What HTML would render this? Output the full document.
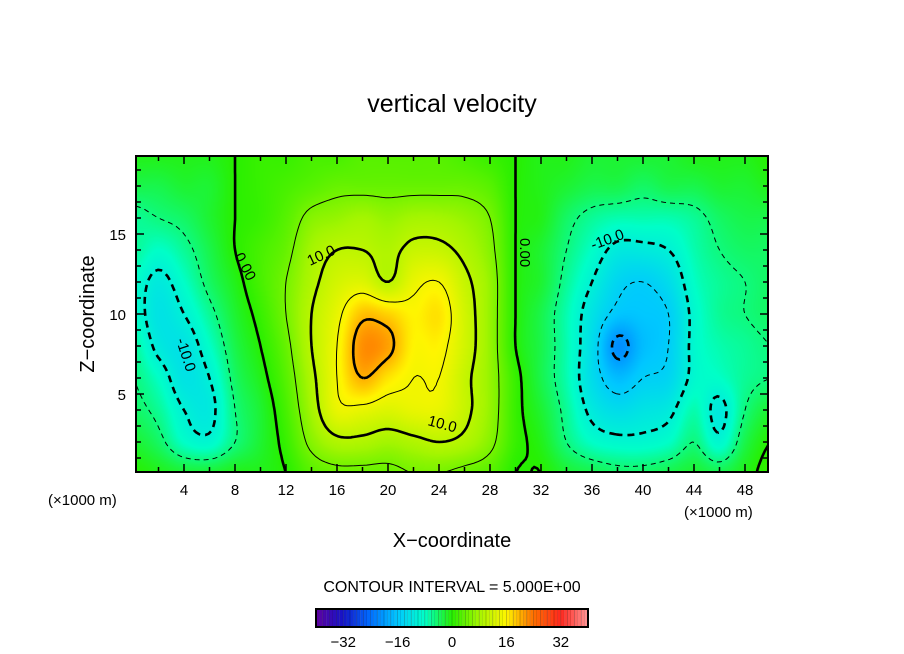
<!DOCTYPE html>
<html><head><meta charset="utf-8">
<style>
html,body{margin:0;padding:0;background:#fff;}
#wrap{position:relative;width:904px;height:654px;overflow:hidden;font-family:"Liberation Sans",sans-serif;}
#heat{position:absolute;left:136px;top:156px;}
svg{position:absolute;left:0;top:0;}
</style></head>
<body>
<div id="wrap">
<canvas id="heat" width="632" height="316"></canvas>
<svg id="ov" width="904" height="654">
  <text x="452" y="112" font-size="25" text-anchor="middle">vertical velocity</text>
  <g id="contours"></g>
  <g id="clabels" font-size="15" font-family="Liberation Sans, sans-serif">
    <text transform="translate(234,256) rotate(62)">0.00</text>
    <text transform="translate(310,266) rotate(-25)">10.0</text>
    <text transform="translate(427,425) rotate(15)">10.0</text>
    <text transform="translate(520,238) rotate(90)">0.00</text>
    <text transform="translate(593,250) rotate(-20)">-10.0</text>
    <text transform="translate(176,340) rotate(72)">-10.0</text>
  </g>
  <rect x="136" y="156" width="632" height="316" fill="none" stroke="#000" stroke-width="2"/>
  <g id="ticks"></g>
  <g id="xlabels" font-size="15" text-anchor="middle"></g>
  <g id="ylabels" font-size="15" text-anchor="end"></g>
  <text x="48" y="505" font-size="15">(×1000 m)</text>
  <text x="684" y="517" font-size="15">(×1000 m)</text>
  <text x="452" y="547" font-size="20" text-anchor="middle">X−coordinate</text>
  <text transform="translate(94,314) rotate(-90)" font-size="20" text-anchor="middle">Z−coordinate</text>
  <text x="452" y="592" font-size="16" text-anchor="middle">CONTOUR INTERVAL = 5.000E+00</text>
  <g id="cbar"></g>
  <g id="cblabels" font-size="15" text-anchor="middle"></g>
</svg>
</div>
<script>
// ---- data ----
const xCoords = [0,2,4,6,8,10,12,14,16,18,20,22,24,26,28,30,32,34,36,38,40,42,44,46,48,50];
const zCoords = [20,18,16,14,12,10,8,6,4,2,0];
const wRow20 = [-1,-1,-1,-1,0,1,1,2,2,3,3,3,3,2,1,0,-1,-1,-2,-2,-2,-2,-1,-1,-1,0];
const wRow18 = [-3,-3,-2,-2,0,1,2,3,4,4,4,4,4,4,3,0,-1,-2,-3,-3,-4,-3,-3,-2,-2,-1];
const wRow16 = [-6,-5,-4,-2,0,1,3,6,7,8,7,8,8,7,5,0,-1,-4,-6,-7,-7,-7,-6,-4,-3,-3];
const wRow14 = [-6,-8,-6,-3,0,2,4,8,10,10,9,11,11,9,6,0,-2,-5,-8,-11,-11,-10,-7,-5,-4,-4];
const wRow12 = [-8,-11,-8,-4,-1,2,5,9,12,13,10,14,15,11,7,0,-2,-6,-10,-14,-15,-13,-8,-6,-5,-4];
const wRow10 = [-8,-12,-10,-6,-2,1,5,10,14,19,18,16,17,12,7,0,-3,-7,-12,-16,-16,-15,-9,-6,-5,-4];
const wRow8  = [-6,-11,-12,-8,-3,0,4,10,15,22,21,16,16,12,7,0,-3,-7,-13,-21,-17,-15,-9,-7,-6,-5];
const wRow6  = [-5,-8,-12,-10,-4,-1,3,9,15,20,17,15,15,11,7,1,-3,-7,-13,-17,-15,-14,-9,-8,-6,-5];
const wRow4  = [-4,-6,-10,-11,-5,-2,2,8,14,14,13,14,14,11,7,1,-2,-6,-11,-13,-12,-11,-7,-11,-5,-2];
const wRow2  = [-2,-4,-8,-9,-5,-2,1,6,9,9,8,9,10,9,6,1,-1,-5,-8,-9,-9,-8,-5,-9,-3,0];
const wRow0  = [0,-1,-2,-2,-1,-1,0,3,4,4,4,5,5,4,3,0,0,-2,-3,-4,-4,-3,-2,-3,-1,1];
const contourLevels = [-20,-15,-10,-5,0,5,10,15,20];
const xTickVals = [4,8,12,16,20,24,28,32,36,40,44,48];
const yTickVals = [5,10,15];
const cbTickVals = [-32,-16,0,16,32];
// ---- scales ----
const grid = [wRow20,wRow18,wRow16,wRow14,wRow12,wRow10,wRow8,wRow6,wRow4,wRow2,wRow0];
const px = x => 133 + x*12.75;
const py = z => 474 - z*16;
const X0 = (136-133)/12.75, X1 = (768-133)/12.75, Z0 = (474-472)/16, Z1 = (474-156)/16;
const NS = 'http://www.w3.org/2000/svg';
function findIdx(arr, v){ let i=0; while(i<arr.length-2 && v>arr[i+1]) i++; return i; }
const zAsc = zCoords.slice().reverse();
const gAsc = grid.slice().reverse();
function g(i,j){ i=Math.max(0,Math.min(xCoords.length-1,i)); j=Math.max(0,Math.min(zAsc.length-1,j)); return gAsc[j][i]; }
function cr(p0,p1,p2,p3,t){ return 0.5*((2*p1)+(-p0+p2)*t+(2*p0-5*p1+4*p2-p3)*t*t+(-p0+3*p1-3*p2+p3)*t*t*t); }
function val(x,z){
  const i=findIdx(xCoords,x), j=findIdx(zAsc,z);
  const tx=(x-xCoords[i])/(xCoords[i+1]-xCoords[i]), tz=(z-zAsc[j])/(zAsc[j+1]-zAsc[j]);
  const r=[];
  for(let k=-1;k<=2;k++) r.push(cr(g(i-1,j+k),g(i,j+k),g(i+1,j+k),g(i+2,j+k),tx));
  return cr(r[0],r[1],r[2],r[3],tz);
}
const stops=[[-40,[96,0,160]],[-32,[20,20,200]],[-24,[0,110,255]],[-16,[0,200,255]],[-8,[0,255,200]],[0,[40,240,0]],[8,[165,245,0]],[16,[255,245,0]],[24,[255,110,0]],[32,[255,40,30]],[40,[255,150,150]]];
function cmap(v){
  if(v<=stops[0][0]) return stops[0][1];
  for(let k=0;k<stops.length-1;k++){ if(v<=stops[k+1][0]){ const t=(v-stops[k][0])/(stops[k+1][0]-stops[k][0]); return stops[k][1].map((c,m)=>Math.round(c+(stops[k+1][1][m]-c)*t)); } }
  return stops[stops.length-1][1];
}
// heatmap
const cv=document.getElementById('heat'), ctx=cv.getContext('2d');
const img=ctx.createImageData(632,316);
for(let yy=0;yy<316;yy++){ const z=(474-(156+yy+0.5))/16;
  for(let xx=0;xx<632;xx++){ const x=(136+xx+0.5-133)/12.75; const c=cmap(val(x,z)); const o=(yy*632+xx)*4; img.data[o]=c[0];img.data[o+1]=c[1];img.data[o+2]=c[2];img.data[o+3]=255; } }
ctx.putImageData(img,0,0);
// contours
const NX=200, NZ=100, dx=(X1-X0)/NX, dz=(Z1-Z0)/NZ;
const F=[]; for(let j=0;j<=NZ;j++){ F.push([]); for(let i=0;i<=NX;i++) F[j].push(val(X0+i*dx,Z0+j*dz)); }
const cg=document.getElementById('contours');
contourLevels.forEach(L=>{
  const segs=[], adj={};
  const ptOn=(key,a,b,va,vb)=>{const t=(L-va)/(vb-va); return {key, x:a[0]+(b[0]-a[0])*t, z:a[1]+(b[1]-a[1])*t};};
  for(let j=0;j<NZ;j++) for(let i=0;i<NX;i++){
    const c=[[i,j],[i+1,j],[i+1,j+1],[i,j+1]].map(p=>({p:[X0+p[0]*dx,Z0+p[1]*dz],v:F[p[1]][p[0]]}));
    const ek=['h'+i+','+j,'v'+(i+1)+','+j,'h'+i+','+(j+1),'v'+i+','+j];
    const pts=[];
    for(let e=0;e<4;e++){ const a=c[e], b=c[(e+1)%4]; if((a.v<L)!==(b.v<L)) pts.push(ptOn(ek[e],a.p,b.p,a.v,b.v)); }
    if(pts.length===2) segs.push([pts[0],pts[1]]);
    else if(pts.length===4){ segs.push([pts[0],pts[1]]); segs.push([pts[2],pts[3]]); }
  }
  segs.forEach((s,k)=>{ s.forEach(p=>{ (adj[p.key]=adj[p.key]||[]).push(k); }); });
  const used=new Array(segs.length).fill(false);
  const neg=L<0, thick=(L%10===0);
  for(let k=0;k<segs.length;k++){ if(used[k]) continue; used[k]=true;
    let line=[segs[k][0],segs[k][1]];
    for(let dir=0;dir<2;dir++){
      let go=true;
      while(go){ go=false; const end=line[line.length-1];
        for(const n of adj[end.key]){ if(!used[n]){ used[n]=true; const s=segs[n]; line.push(s[0].key===end.key?s[1]:s[0]); go=true; break; } } }
      line.reverse();
    }
    const path=document.createElementNS(NS,'path');
    path.setAttribute('d','M'+line.map(p=>px(p.x).toFixed(1)+','+py(p.z).toFixed(1)).join('L'));
    path.setAttribute('fill','none'); path.setAttribute('stroke','#000');
    path.setAttribute('stroke-width',thick?2.6:1);
    if(neg) path.setAttribute('stroke-dasharray',thick?'7,5':'5,4');
    
    
    cg.appendChild(path);
  }
});
// ticks
const tg=document.getElementById('ticks');
function ln(x1,y1,x2,y2,name){const l=document.createElementNS(NS,'line');l.setAttribute('x1',x1);l.setAttribute('y1',y1);l.setAttribute('x2',x2);l.setAttribute('y2',y2);l.setAttribute('stroke','#000');l.setAttribute('stroke-width',1.5);


tg.appendChild(l);}
for(let x=2;x<=48;x+=2){ const len=(x%4===0)?8:5; ln(px(x),472,px(x),472-len,'x-tick'); ln(px(x),156,px(x),156+len,'x-tick'); }
for(let z=1;z<=19;z++){ const len=(z%5===0)?8:5; ln(136,py(z),136+len,py(z),'y-tick'); ln(768,py(z),768-len,py(z),'y-tick'); }
const xl=document.getElementById('xlabels');
xTickVals.forEach(v=>{const t=document.createElementNS(NS,'text');t.setAttribute('x',px(v));t.setAttribute('y',495);t.textContent=v;


xl.appendChild(t);});
const yl=document.getElementById('ylabels');
yTickVals.forEach(v=>{const t=document.createElementNS(NS,'text');t.setAttribute('x',126);t.setAttribute('y',py(v)+6);t.textContent=v;


yl.appendChild(t);});
// colorbar
const cb=document.getElementById('cbar'); const cbx=v=>452+v*3.4;
for(let v=-40;v<40;v+=1){ const r=document.createElementNS(NS,'rect'); r.setAttribute('x',cbx(v)); r.setAttribute('y',609); r.setAttribute('width',3.4); r.setAttribute('height',18);
 const c=cmap(v+0.5); r.setAttribute('fill','rgb('+c+')'); if(v%2===0){r.setAttribute('stroke','rgba(0,0,0,0.35)');r.setAttribute('stroke-width',0.6);}
 
 
 cb.appendChild(r); }
const fr=document.createElementNS(NS,'rect'); fr.setAttribute('x',316);fr.setAttribute('y',609);fr.setAttribute('width',272);fr.setAttribute('height',18);fr.setAttribute('fill','none');fr.setAttribute('stroke','#000');fr.setAttribute('stroke-width',2);


cb.appendChild(fr);
const cbl=document.getElementById('cblabels');
cbTickVals.forEach(v=>{const t=document.createElementNS(NS,'text');t.setAttribute('x',cbx(v));t.setAttribute('y',647);t.textContent=(v<0?'−':'')+Math.abs(v);


cbl.appendChild(t);});
</script>
</body></html>
